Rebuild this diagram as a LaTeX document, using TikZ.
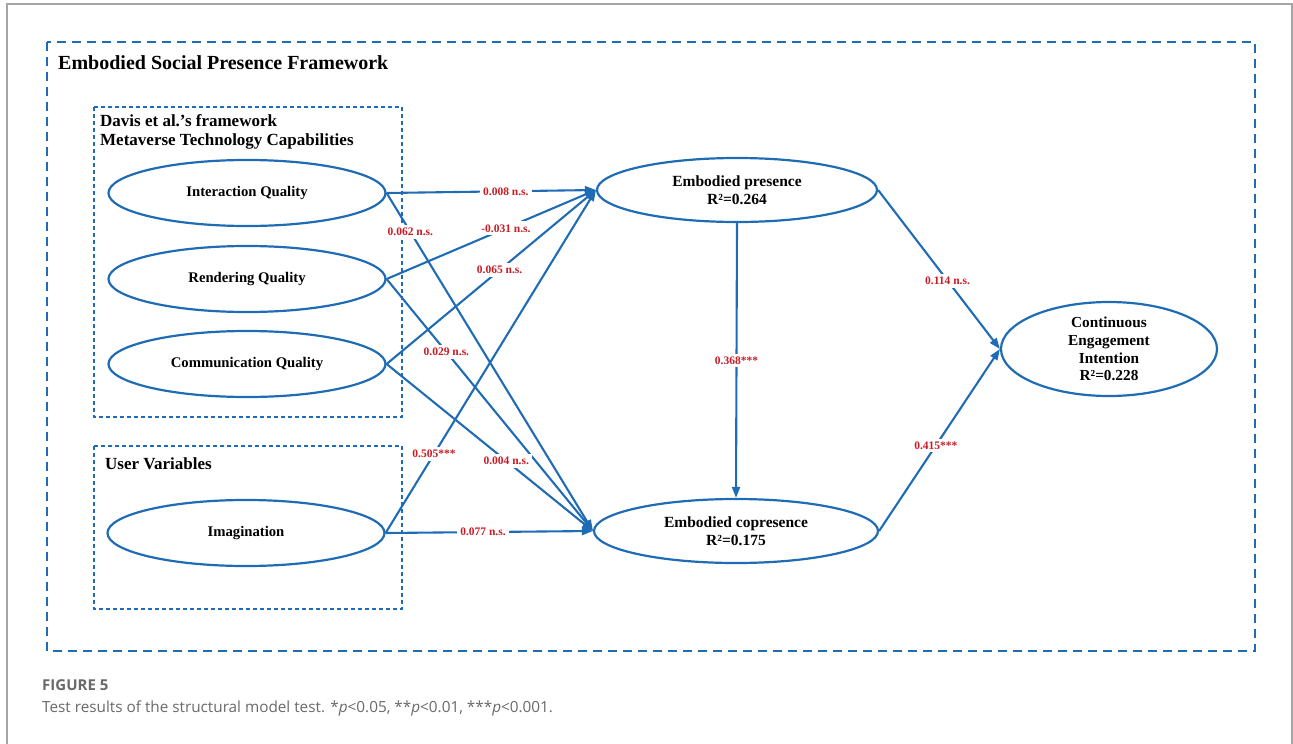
\documentclass[tikz,border=0pt]{standalone}
\usepackage{fontspec}
\setmainfont{Liberation Serif}
\newfontfamily\capfont{Open Sans}
\usetikzlibrary{shapes.geometric,arrows.meta}

\definecolor{lineblue}{RGB}{31,108,181}
\definecolor{coefred}{RGB}{200,28,38}
\definecolor{capgray}{RGB}{105,105,105}

\tikzset{
  latent/.style={ellipse, draw=lineblue, line width=2.2pt, inner sep=0pt,
    minimum width=277pt, minimum height=66pt, align=center,
    font=\bfseries\fontsize{14.7}{18}\selectfont},
  arr/.style={draw=lineblue, line width=2.1pt, -{Triangle[length=11pt,width=8pt]}},
  coef/.style={fill=white, inner sep=3pt, text=coefred,
    font=\bfseries\fontsize{11.5}{13}\selectfont},
  groupbox/.style={draw=lineblue, line width=2pt, dash pattern=on 4pt off 3pt},
  header/.style={anchor=west, inner sep=0pt, font=\bfseries\fontsize{17}{20}\selectfont},
}

\begin{document}
\begin{tikzpicture}[x=1pt,y=-1pt]
\useasboundingbox (0,0) rectangle (1293,744);
% card frame
\draw[black!35, line width=1.2pt] (7,744) -- (7,4) -- (1292,4) -- (1292,744);

% framework boxes
\draw[draw=lineblue, line width=2.2pt, dash pattern=on 9pt off 6pt] (47,42) rectangle (1255,651);
\draw[groupbox] (94,107) rectangle (402,417);
\draw[groupbox] (94,446) rectangle (402,609);
\node[header, font=\bfseries\fontsize{20}{24}\selectfont] (title) at (58,63) {Embodied Social Presence Framework};
\node[header] (davis) at (100,121) {Davis et al.'s framework};
\node[header] (mtc) at (100,141) {Metaverse Technology Capabilities};
\node[header] (user) at (105,464) {User Variables};

% constructs
\node[latent] (iq) at (247,193) {Interaction Quality};
\node[latent] (rq) at (247,279) {Rendering Quality};
\node[latent] (cq) at (247,364) {Communication Quality};
\node[latent] (im) at (246,533) {Imagination};
\node[latent, minimum width=280pt, minimum height=64pt, font=\bfseries\fontsize{15.5}{18}\selectfont] (ep) at (737,190) {Embodied presence\\R²=0.264};
\node[latent, minimum width=284pt, minimum height=64pt, font=\bfseries\fontsize{15.5}{18}\selectfont] (ec) at (736,531) {Embodied copresence\\R²=0.175};
\node[latent, minimum width=216pt, minimum height=94pt, font=\bfseries\fontsize{15.3}{17.7}\selectfont] (cei) at (1109,349) {Continuous\\Engagement\\Intention\\R²=0.228};

% paths
\draw[arr] (iq.east) -- node[coef, pos=0.57] {0.008 n.s.} (ep.west);
\draw[arr] (iq.east) -- node[coef, pos=0.115] {0.062 n.s.} (ec.west);
\draw[arr] (rq.east) -- node[coef, pos=0.57] {-0.031 n.s.} (ep.west);
\draw[arr] (rq.east) -- node[coef, pos=0.29] {0.029 n.s.} (ec.west);
\draw[arr] (cq.east) -- node[coef, pos=0.54] {0.065 n.s.} (ep.west);
\draw[arr] (cq.east) -- node[coef, pos=0.58] {0.004 n.s.} (ec.west);
\draw[arr] (im.east) -- node[coef, pos=0.23] {0.505***} (ep.west);
\draw[arr] (im.east) -- node[coef, pos=0.47] {0.077 n.s.} (ec.west);
\draw[arr] (ep.south) -- node[coef, pos=0.5] {0.368***} (ec.north);
\draw[arr] (ep.east) -- node[coef, pos=0.57] {0.114 n.s.} (cei.west);
\draw[arr] (ec.east) -- node[coef, pos=0.47] {0.415***} (cei.west);

% caption
\node[anchor=west, inner sep=0pt, text=capgray, font=\capfont\bfseries\fontsize{15}{18}\selectfont] (fig) at (42,685) {FIGURE 5};
\node[anchor=west, inner sep=0pt, text=capgray, font=\capfont\fontsize{15.3}{18}\selectfont] (cap) at (42,708) {Test results of the structural model test. *\textit{p}<0.05, **\textit{p}<0.01, ***\textit{p}<0.001.};
\end{tikzpicture}
\end{document}
